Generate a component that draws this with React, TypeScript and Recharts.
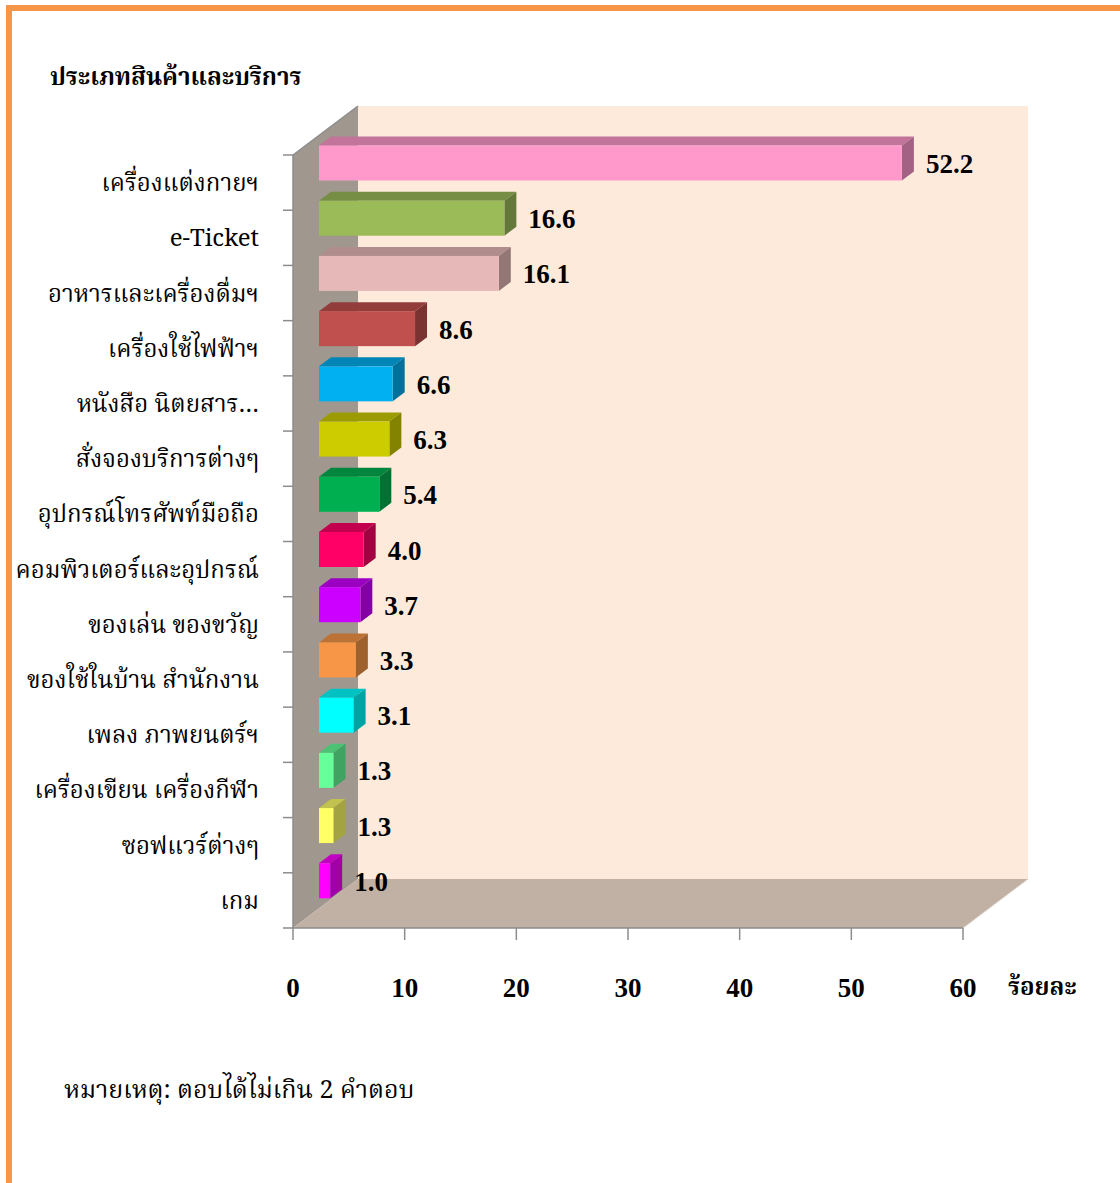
import React from "react";
import { BarChart, Bar, XAxis, YAxis, ReferenceArea, LabelList } from "recharts";

// ประเภทสินค้าและบริการ ที่ซื้อ (ร้อยละ)
const categories = [
  "เครื่องแต่งกายฯ",
  "e-Ticket",
  "อาหารและเครื่องดื่มฯ",
  "เครื่องใช้ไฟฟ้าฯ",
  "หนังสือ นิตยสาร…",
  "สั่งจองบริการต่างๆ",
  "อุปกรณ์โทรศัพท์มือถือ",
  "คอมพิวเตอร์และอุปกรณ์",
  "ของเล่น ของขวัญ",
  "ของใช้ในบ้าน สำนักงาน",
  "เพลง ภาพยนตร์ฯ",
  "เครื่องเขียน เครื่องกีฬา",
  "ซอฟแวร์ต่างๆ",
  "เกม",
];
const percents = [52.2, 16.6, 16.1, 8.6, 6.6, 6.3, 5.4, 4.0, 3.7, 3.3, 3.1, 1.3, 1.3, 1.0];
const xTicks = [0, 10, 20, 30, 40, 50, 60];

const barColors = [
  "#FF99CC", "#9BBB59", "#E6B9B8", "#C0504D", "#00B0F0", "#CCCC00", "#00B050",
  "#FF0066", "#CC00FF", "#F79646", "#00FFFF", "#66FF99", "#FFFF66", "#FF00FF",
];

const data = categories.map((name, i) => ({ name, value: percents[i] }));

// 3D geometry: wall depth, bar inset from the front plane, bar thickness
const DEPTH_X = 65;
const DEPTH_Y = 49;
const BAR_DX = 26;
const BAR_DY = 19.5;
const BAR_TX = 12;
const BAR_TY = 9;

const THAI_FONT = "'Angsana New', 'TH Sarabun New', 'Noto Serif Thai', 'Noto Sans Thai', 'Liberation Serif', 'Times New Roman', serif";
const NUM_FONT = "'Times New Roman', 'Liberation Serif', serif";
const AXIS_GRAY = "#8C8C8C";

function shade(hex: string, k: number) {
  const n = parseInt(hex.slice(1), 16);
  const r = Math.round(((n >> 16) & 255) * k);
  const g = Math.round(((n >> 8) & 255) * k);
  const b = Math.round((n & 255) * k);
  return `rgb(${r},${g},${b})`;
}

// back wall, side wall and floor of the 3D box, plus category boundary ticks
function Walls(props: any) {
  const { x, y, width: w, height: h } = props;
  const n = categories.length;
  return (
    <g>
      <polygon
        points={`${x + DEPTH_X},${y - DEPTH_Y} ${x + w + DEPTH_X},${y - DEPTH_Y} ${x + w + DEPTH_X},${y + h - DEPTH_Y} ${x + DEPTH_X},${y + h - DEPTH_Y}`}
        fill="#FDEADA"
      />
      <polygon
        points={`${x},${y} ${x + DEPTH_X},${y - DEPTH_Y} ${x + DEPTH_X},${y + h - DEPTH_Y} ${x},${y + h}`}
        fill="#A0978F"
      />
      <polygon
        points={`${x},${y + h} ${x + DEPTH_X},${y + h - DEPTH_Y} ${x + w + DEPTH_X},${y + h - DEPTH_Y} ${x + w},${y + h}`}
        fill="#C1B1A4"
      />
      <line x1={x} y1={y} x2={x + DEPTH_X} y2={y - DEPTH_Y} stroke={AXIS_GRAY} strokeWidth={1.5} />
      <line x1={x + w} y1={y + h} x2={x + w + DEPTH_X} y2={y + h - DEPTH_Y} stroke="#D9D0C8" strokeWidth={1} />
      {Array.from({ length: n + 1 }, (_, i) => (
        <line key={i} x1={x - 10} y1={y + (i * h) / n} x2={x} y2={y + (i * h) / n} stroke={AXIS_GRAY} strokeWidth={1.5} />
      ))}
    </g>
  );
}

function Bar3D(props: any) {
  const { x, y, width, height, index } = props;
  const c = barColors[index];
  const fx = x + BAR_DX;
  const fy = y - BAR_DY;
  return (
    <g>
      <polygon
        points={`${fx},${fy} ${fx + BAR_TX},${fy - BAR_TY} ${fx + width + BAR_TX},${fy - BAR_TY} ${fx + width},${fy}`}
        fill={shade(c, 0.76)}
      />
      <polygon
        points={`${fx + width},${fy} ${fx + width + BAR_TX},${fy - BAR_TY} ${fx + width + BAR_TX},${fy + height - BAR_TY} ${fx + width},${fy + height}`}
        fill={shade(c, 0.64)}
      />
      <rect x={fx} y={fy} width={width} height={height} fill={c} />
    </g>
  );
}

function ValueLabel(props: any) {
  const { x, y, width, height, value } = props;
  return (
    <text
      x={x + BAR_DX + width + 24}
      y={y - BAR_DY + height / 2 + 1}
      dominantBaseline="central"
      fontFamily={NUM_FONT}
      fontWeight="bold"
      fontSize={27}
      fill="#000"
    >
      {Number(value).toFixed(1)}
    </text>
  );
}

function CategoryTick(props: any) {
  const { x, y, payload } = props;
  return (
    <text x={x - 26} y={y + 2} textAnchor="end" dominantBaseline="central" fontFamily={THAI_FONT} fontSize={24} fill="#000">
      {payload.value}
    </text>
  );
}

function ValueTick(props: any) {
  const { x, y, payload } = props;
  return (
    <text x={x} y={y + 46} textAnchor="middle" dominantBaseline="central" fontFamily={NUM_FONT} fontWeight="bold" fontSize={27} fill="#000">
      {payload.value}
    </text>
  );
}

export default function App() {
  return (
    <div style={{ position: "absolute", left: 0, top: 0, width: 1120, height: 1183, overflow: "hidden", background: "#fff" }}>
      <div
        style={{
          position: "absolute",
          left: 6,
          top: 5,
          width: 1200,
          height: 1300,
          borderLeft: "6px solid #F79646",
          borderTop: "6px solid #F79646",
        }}
      />
      <div style={{ position: "absolute", left: 50, top: 63, fontFamily: THAI_FONT, fontWeight: "bold", fontSize: 24, lineHeight: "32px", whiteSpace: "nowrap" }}>
        ประเภทสินค้าและบริการ
      </div>
      <div style={{ position: "absolute", left: 1008, top: 973, fontFamily: THAI_FONT, fontWeight: "bold", fontSize: 24, lineHeight: "32px", whiteSpace: "nowrap" }}>
        ร้อยละ
      </div>
      <div style={{ position: "absolute", left: 64, top: 1075, fontFamily: THAI_FONT, fontSize: 25, lineHeight: "32px", whiteSpace: "nowrap" }}>
        หมายเหตุ: ตอบได้ไม่เกิน 2 คำตอบ
      </div>
      <div style={{ position: "absolute", left: 0, top: 0 }}>
        <BarChart
          width={1120}
          height={1183}
          data={data}
          layout="vertical"
          margin={{ top: 155, right: 157, left: 13, bottom: 195 }}
          barSize={35}
        >
          <XAxis
            type="number"
            domain={[0, 60]}
            ticks={xTicks}
            interval={0}
            tickSize={12}
            height={60}
            axisLine={{ stroke: AXIS_GRAY, strokeWidth: 1.5 }}
            tickLine={{ stroke: AXIS_GRAY, strokeWidth: 1.5 }}
            tick={<ValueTick />}
          />
          <YAxis
            type="category"
            dataKey="name"
            width={280}
            interval={0}
            axisLine={{ stroke: AXIS_GRAY, strokeWidth: 1.5 }}
            tickLine={false}
            tick={<CategoryTick />}
          />
          <ReferenceArea x1={0} x2={60} shape={<Walls />} ifOverflow="visible" />
          <Bar dataKey="value" shape={<Bar3D />} isAnimationActive={false}>
            <LabelList dataKey="value" content={<ValueLabel />} />
          </Bar>
        </BarChart>
      </div>
    </div>
  );
}
